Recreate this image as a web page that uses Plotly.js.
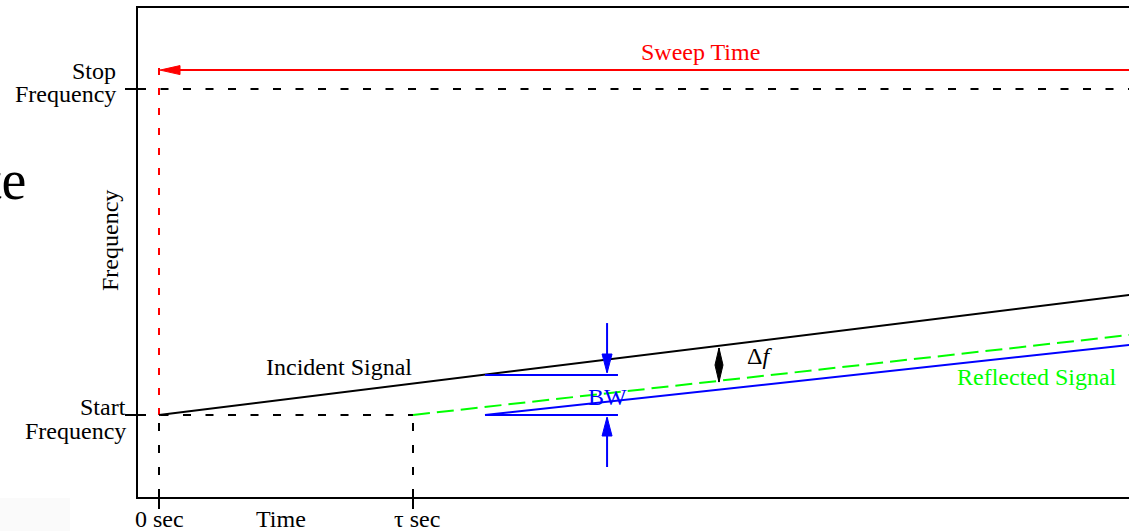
<!DOCTYPE html>
<html>
<head>
<meta charset="utf-8">
<script src="https://cdn.plot.ly/plotly-3.0.1.min.js"></script>
<style>html,body{margin:0;padding:0;background:#fff;overflow:hidden;}</style>
</head>
<body>
<div id="chart" style="width:1129px;height:531px;"></div>
<script>
// ---- data (time in units of tau, frequency normalised: 0 = start, 1 = stop) ----
const timeTicks = [0, 1];
const timeTickText = ['0 sec', '\u03C4 sec'];
const freqTicks = [0, 1];
const stopLabel = ['Stop', 'Frequency'];
const startLabel = ['Start', 'Frequency'];

const incidentTime = [0, 3.82];
const incidentFreq = [0, 0.368];

const reflectedTime = [1, 3.82];
const reflectedFreq = [0, 0.2454];

const bandTime = [1.2835, 3.82];
const bandFreq = [0, 0.2147];

const bwLineTime = [1.2835, 1.807];
const bwLineFreq = [0.1227, 0];
const bwArrowTime = 1.764;
const bwArrowTail = [0.282, -0.1595];

const deltaFTime = 2.2047;
const deltaFFreq = [0.101, 0.2055];

const sweepFreq = 1.058;
const sweepTopFreq = 1.08;

// ---- axis geometry ----
const W = 1129, H = 531;
const M = {l: 138, r: 0, t: 8, b: 34};
const plotW = W - M.l - M.r, plotH = H - M.t - M.b;
const X0 = -0.08268, X1 = X0 + plotW / 254;
const Y0 = -0.25153, Y1 = Y0 + plotH / 326;
const pxX = plotW / (X1 - X0), pxY = plotH / (Y1 - Y0);
const xp = v => (v - X0) / (X1 - X0);
const yp = v => (v - Y0) / (Y1 - Y0);

const FONT = 'Liberation Serif, Times New Roman, serif';
const BLACK = '#000000', RED = '#ff0000', GREEN = '#00ff00', BLUE = '#0000ff';

function line(x, y, color, dash, width) {
  return {type: 'scatter', mode: 'lines', x: x, y: y, hoverinfo: 'skip',
    line: {color: color, width: width || 2, dash: dash || 'solid'}};
}

// arrow head path: tip in data units, direction (screen px, y down) tail->tip
function head(tx, ty, dx, dy, len, hw, color) {
  const n = Math.hypot(dx, dy); dx /= n; dy /= n;
  const px = -dy, py = dx;
  const pts = [[0, 0], [-dx * len + px * hw, -dy * len + py * hw], [-dx * len - px * hw, -dy * len - py * hw]];
  const d = pts.map((p, i) => (i ? 'L' : 'M') + (tx + p[0] / pxX) + ',' + (ty - p[1] / pxY)).join(' ') + ' Z';
  return {type: 'path', xref: 'x', yref: 'y', path: d, fillcolor: color, line: {color: color, width: 1}};
}
function diamond(x, ylo, yhi, hw, color) {
  const ym = (ylo + yhi) / 2, dxh = hw / pxX;
  const d = `M${x},${yhi} L${x + dxh},${ym} L${x},${ylo} L${x - dxh},${ym} Z`;
  return {type: 'path', xref: 'x', yref: 'y', path: d, fillcolor: color, line: {color: color, width: 1}};
}

const traces = [
  line([X0, X1], [freqTicks[1], freqTicks[1]], BLACK, '8px,14.5px'),
  line([X0, timeTicks[1]], [freqTicks[0], freqTicks[0]], BLACK, '8px,14.5px'),
  line([timeTicks[0], timeTicks[0]], [Y0, freqTicks[0]], BLACK, '8px,14px'),
  line([timeTicks[1], timeTicks[1]], [Y0, freqTicks[0]], BLACK, '8px,14px'),
  line([timeTicks[0], timeTicks[0]], [freqTicks[0], sweepTopFreq], RED, '7px,13px'),
  line([timeTicks[0] + 0.02, X1], [sweepFreq, sweepFreq], RED),
  line(reflectedTime, reflectedFreq, GREEN, '17px,7px'),
  line(bandTime, bandFreq, BLUE),
  line(incidentTime, incidentFreq, BLACK),
  line(bwLineTime, [bwLineFreq[0], bwLineFreq[0]], BLUE),
  line(bwLineTime, [bwLineFreq[1], bwLineFreq[1]], BLUE),
  line([bwArrowTime, bwArrowTime], [bwArrowTail[0], bwLineFreq[0] + 3 / pxY], BLUE),
  line([bwArrowTime, bwArrowTime], [bwArrowTail[1], bwLineFreq[1] - 3 / pxY], BLUE),
  line([deltaFTime, deltaFTime], deltaFFreq, BLACK, 'solid', 1.5)
];

const shapes = [
  {type: 'rect', xref: 'paper', yref: 'paper', x0: -M.l / plotW, x1: (70 - M.l) / plotW,
   y0: -M.b / plotH, y1: -1 / plotH, fillcolor: '#fafafa', line: {width: 0}, layer: 'below'},
  head(timeTicks[0] + 0.004, sweepFreq, -1, 0, 20, 4.5, RED),
  head(bwArrowTime, bwLineFreq[0] + 2 / pxY, 0, 1, 19, 5, BLUE),
  head(bwArrowTime, bwLineFreq[1] - 2 / pxY, 0, -1, 19, 5, BLUE),
  diamond(deltaFTime, deltaFFreq[0], deltaFFreq[1], 4, BLACK)
];

function txt(text, x, y, color, opts) {
  return Object.assign({text: text, x: x, y: y, xref: 'x', yref: 'y', showarrow: false,
    xanchor: 'center', yanchor: 'middle', borderpad: 0, font: {family: FONT, size: 24, color: color}}, opts || {});
}
const paperOpts = (extra) => Object.assign({xref: 'paper', yref: 'paper'}, extra || {});
const yLab = (497 - 519) / plotH;

const annotations = [
  txt('Sweep Time', 2.13, 1.1135, RED),
  txt('Incident Signal', 0.709, 0.147, BLACK),
  txt('Reflected Signal', 3.457, 0.1166, GREEN),
  txt('BW', bwArrowTime, 0.0552, BLUE),
  txt('\u0394<i>f</i>', 2.366, 0.181, BLACK),
  txt(stopLabel[0], xp(-0.1654), yp(1.054), BLACK, paperOpts({xanchor: 'right'})),
  txt(stopLabel[1], xp(-0.1654), yp(0.985), BLACK, paperOpts({xanchor: 'right'})),
  txt(startLabel[0], xp(-0.126), yp(0.0235), BLACK, paperOpts({xanchor: 'right'})),
  txt(startLabel[1], xp(-0.126), yp(-0.048), BLACK, paperOpts({xanchor: 'right'})),
  txt(timeTickText[0], xp(timeTicks[0]), yLab, BLACK, paperOpts()),
  txt(timeTickText[1], xp(timeTicks[1]) + 4 / plotW, yLab, BLACK, paperOpts()),
  txt('Time', (281 - M.l) / plotW, yLab, BLACK, paperOpts()),
  txt('Frequency', (110 - M.l) / plotW, (497 - 241) / plotH, BLACK, paperOpts({textangle: -90})),
  txt('te', (27 - M.l) / plotW, (497 - 180) / plotH, BLACK, paperOpts({xanchor: 'right',
    font: {family: FONT, size: 56, color: BLACK}}))
];

const layout = {
  width: W, height: H,
  margin: {l: M.l, r: M.r, t: M.t, b: M.b, pad: 0},
  paper_bgcolor: '#ffffff', plot_bgcolor: '#ffffff',
  showlegend: false,
  xaxis: {range: [X0, X1], showgrid: false, zeroline: false, showline: true, mirror: true,
    linecolor: BLACK, linewidth: 2, ticks: 'outside', ticklen: 10, tickwidth: 2, tickcolor: BLACK,
    tickmode: 'array', tickvals: timeTicks, ticktext: timeTickText, showticklabels: false,
    fixedrange: true},
  yaxis: {range: [Y0, Y1], showgrid: false, zeroline: false, showline: true,
    linecolor: BLACK, linewidth: 2, ticks: 'outside', ticklen: 11, tickwidth: 2, tickcolor: BLACK,
    tickmode: 'array', tickvals: freqTicks, showticklabels: false, fixedrange: true},
  shapes: shapes,
  annotations: annotations
};

Plotly.newPlot('chart', traces, layout, {staticPlot: true, displayModeBar: false});
</script>
</body>
</html>
